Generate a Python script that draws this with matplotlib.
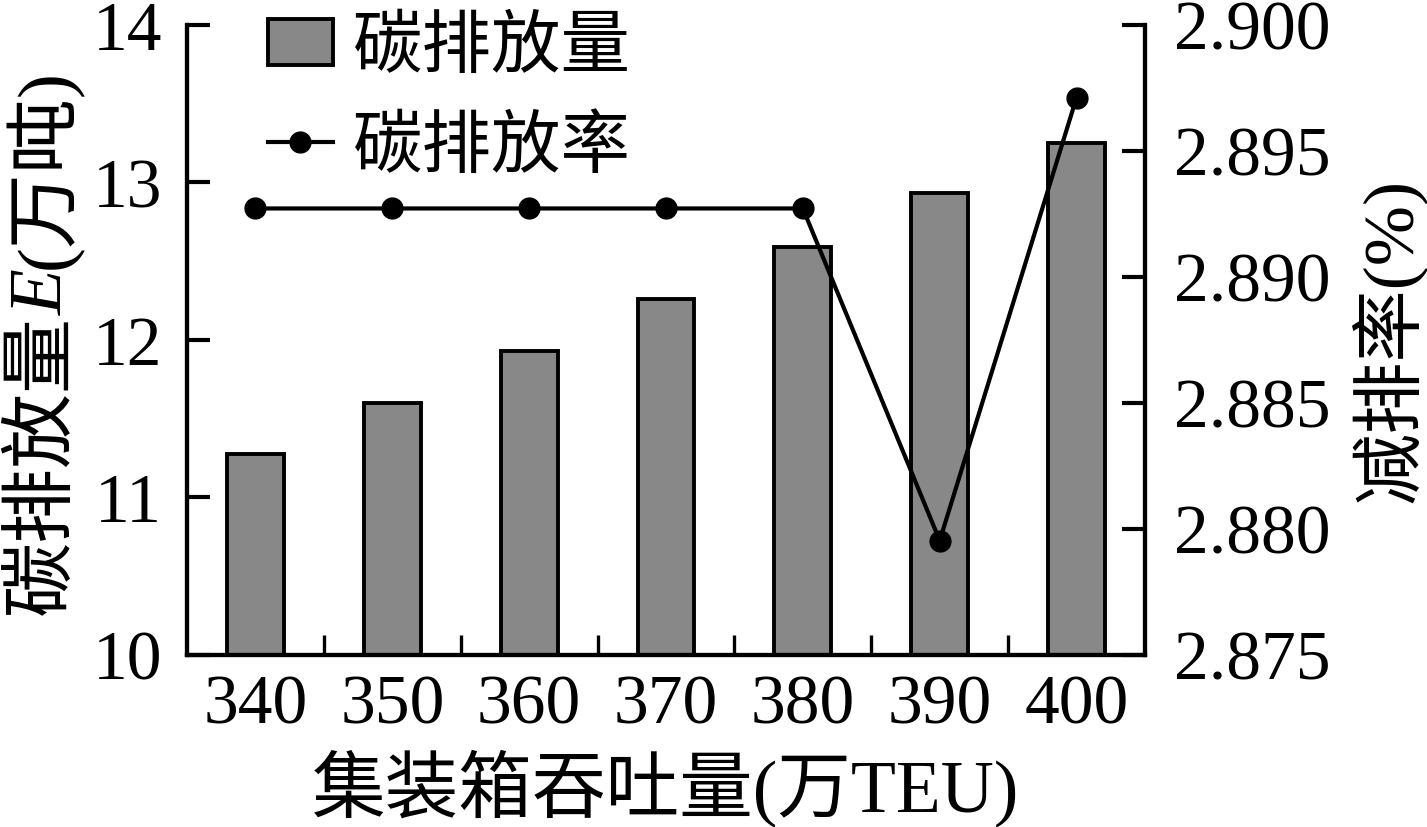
import matplotlib
matplotlib.use("Agg")
import matplotlib.pyplot as plt
import numpy as np

plt.rcParams['font.family'] = ['Liberation Serif', 'Noto Sans CJK SC', 'DejaVu Sans']

categories = ['340', '350', '360', '370', '380', '390', '400']
emissions = [11.27, 11.60, 11.93, 12.26, 12.59, 12.93, 13.25]
reduction_rate = [2.8927, 2.8927, 2.8927, 2.8927, 2.8927, 2.87952, 2.8971]
left_ticks = [10, 11, 12, 13, 14]
right_ticks = [2.875, 2.880, 2.885, 2.890, 2.895, 2.900]
right_tick_labels = ['2.875', '2.880', '2.885', '2.890', '2.895', '2.900']
ylabel_parts = [('碳排放量', 'normal'), ('E', 'italic'), ('(万吨)', 'normal')]

FS = 50
W, H = 1427, 828
fig = plt.figure(figsize=(14.27, 8.28), dpi=100)
ax = fig.add_axes([187/W, 1-655.5/H, (1145-187)/W, (655.5-25.5)/H])
x = np.arange(len(categories))
bars = ax.bar(x, emissions, width=0.415, color='#888888', edgecolor='black',
              linewidth=2.8, label='碳排放量', zorder=2)
ax.set_xlim(-0.5, 6.5)
ax.set_ylim(10, 14)
ax.set_yticks(left_ticks)
ax.set_yticklabels([str(t) for t in left_ticks], fontsize=FS)
ax.set_xticks(x)
ax.set_xticklabels(categories, fontsize=FS)
ax.set_xticks(x[:-1] + 0.5, minor=True)
ax.tick_params(axis='x', which='major', length=0, pad=14)
ax.tick_params(axis='x', which='minor', direction='in', length=14.5, width=2.4)
ax.tick_params(axis='y', direction='in', length=16.5, width=3, pad=18)
for s in ['left', 'bottom', 'right']:
    ax.spines[s].set_linewidth(3)
ax.spines['top'].set_visible(False)

ax2 = ax.twinx()
line, = ax2.plot(x, reduction_rate, color='black', linewidth=3.0, marker='o',
                 markersize=15, label='碳排放率', zorder=3)
ax2.set_ylim(2.875, 2.900)
ax2.set_yticks(right_ticks)
ax2.set_yticklabels(right_tick_labels, fontsize=FS)
ax2.tick_params(axis='y', direction='in', length=16.5, width=3, pad=21)
for s in ['left', 'bottom', 'right']:
    ax2.spines[s].set_linewidth(3)
ax2.spines['top'].set_visible(False)

ax.set_xlabel('集装箱吞吐量(万TEU)', fontsize=53, labelpad=8)
ax2.set_ylabel('减排率(%)', fontsize=52, labelpad=14)

# left y label composed of pieces (italic E)
renderer = fig.canvas.get_renderer()
texts = []
for s, style in ylabel_parts:
    t = fig.text(44/W, 0.5, s, rotation=90, fontsize=54, style=style,
                 ha='center', va='bottom', rotation_mode='default')
    texts.append(t)
heights = [t.get_window_extent(renderer).height for t in texts]
total = sum(heights)
center_px = H - 342
y = center_px - total/2
for t, h in zip(texts, heights):
    t.set_y(y / H)
    y += h

leg = ax2.legend([bars, line], ['碳排放量', '碳排放率'], loc='upper left',
                 bbox_to_anchor=(268/W, 1-18/H), bbox_transform=fig.transFigure,
                 frameon=False, fontsize=FS, borderpad=0, borderaxespad=0,
                 handlelength=0.93, handleheight=0.63, handletextpad=0.3,
                 labelspacing=0.5)

fig.savefig('out.png', dpi=100)
